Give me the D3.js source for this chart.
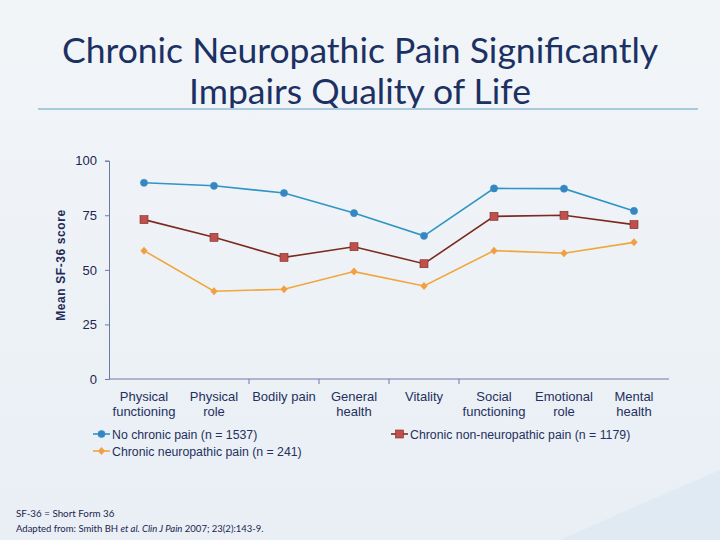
<!DOCTYPE html>
<html><head><meta charset="utf-8">
<script src="https://cdn.jsdelivr.net/npm/d3@7"></script>
<style>body{margin:0;background:#eef3f7;}svg{display:block;}</style>
</head><body>
<script>
const categories = [["Physical","functioning"],["Physical","role"],["Bodily pain"],["General","health"],["Vitality"],["Social","functioning"],["Emotional","role"],["Mental","health"]];
const noChronic = [89.9, 88.5, 85.2, 76.0, 65.6, 87.3, 87.2, 77.0];
const nonNeuro = [73.0, 64.9, 55.7, 60.6, 52.8, 74.5, 75.0, 70.7];
const neuro = [58.8, 40.2, 41.1, 49.2, 42.6, 58.8, 57.6, 62.6];
const yTicks = [0, 25, 50, 75, 100];
const seriesNames = ["No chronic pain (n = 1537)", "Chronic non-neuropathic pain (n = 1179)", "Chronic neuropathic pain (n = 241)"];

const W = 720, H = 540;
const svg = d3.select("body").append("svg").attr("width", W).attr("height", H);
const defs = svg.append("defs");
const bg = defs.append("linearGradient").attr("id","bg").attr("x1","0").attr("y1","0").attr("x2","0").attr("y2","1");
bg.append("stop").attr("offset","0").attr("stop-color","#f2f5f8");
bg.append("stop").attr("offset","1").attr("stop-color","#e9eff5");
svg.append("rect").attr("width",W).attr("height",H).attr("fill","url(#bg)");
svg.append("path").attr("d","M560,540 Q650,500 720,470 L720,540 Z").attr("fill","#dde8f1").attr("opacity",0.8);

// Title
const tstyle = t => t.attr("text-anchor","middle").attr("fill","#1c3163")
  .style("font-family","Lato, 'Open Sans', sans-serif").style("font-size","35.5px");
tstyle(svg.append("text").attr("x",360).attr("y",63)).text("Chronic Neuropathic Pain Significantly");
tstyle(svg.append("text").attr("x",360).attr("y",104)).text("Impairs Quality of Life");
svg.append("line").attr("x1",38).attr("x2",698).attr("y1",109).attr("y2",109)
  .attr("stroke","#a9c9dc").attr("stroke-width",2);

const x0 = 109, x1 = 669;
const xs = d3.scalePoint().domain(d3.range(categories.length)).range([144, 634]);
const y = d3.scaleLinear().domain([0,100]).range([379, 160.7]);
const axisColor = "#6e78a8";
const font = "'Liberation Sans', Arial, sans-serif";

// Y axis
const ya = svg.append("g").attr("transform",`translate(${x0},0)`)
  .call(d3.axisLeft(y).tickValues(yTicks).tickSize(4).tickPadding(8));
ya.select(".domain").attr("stroke",axisColor);
ya.selectAll(".tick line").attr("stroke",axisColor);
ya.selectAll(".tick text").attr("fill","#1d2550").style("font-family",font).style("font-size","13px");

// X axis line
svg.append("line").attr("x1",x0).attr("x2",x1).attr("y1",y(0)).attr("y2",y(0)).attr("stroke",axisColor);
const step = xs.step();
[1,2,3,4].forEach(i=>{
  const bx = xs(i) + step/2;
  svg.append("line").attr("x1",bx).attr("x2",bx).attr("y1",y(0)).attr("y2",y(0)+5).attr("stroke",axisColor);
});
// Category labels
categories.forEach((c,i)=>{
  const t = svg.append("text").attr("text-anchor","middle").attr("fill","#25305e")
    .style("font-family",font).style("font-size","13px");
  c.forEach((s,j)=> t.append("tspan").attr("x",xs(i)).attr("y",401+j*15).text(s));
});

// Y label
svg.append("text").attr("transform","translate(65,265) rotate(-90)").attr("text-anchor","middle")
  .attr("fill","#1d2a5a").style("font-family",font).style("font-size","12px").style("font-weight","bold")
  .style("letter-spacing","0.6px").text("Mean SF-36 score");

const series = [
  {vals:noChronic, line:"#2f95c3", fill:"#3a84c4", shape:"circle"},
  {vals:nonNeuro, line:"#7b2b1e", fill:"#c0504d", shape:"square"},
  {vals:neuro, line:"#f2a63a", fill:"#f0a042", shape:"diamond"}
];
const lineGen = d3.line().x((d,i)=>xs(i)).y(d=>y(d));
function marker(g, shape, cx, cy, fill, stroke){
  if(shape==="circle") g.append("circle").attr("cx",cx).attr("cy",cy).attr("r",3.6).attr("fill",fill).attr("stroke",stroke).attr("stroke-width",0.6);
  else if(shape==="square") g.append("rect").attr("x",cx-4).attr("y",cy-4).attr("width",8).attr("height",8).attr("fill",fill).attr("stroke",stroke).attr("stroke-width",0.6);
  else g.append("path").attr("d",`M${cx},${cy-4}L${cx+3.6},${cy}L${cx},${cy+4}L${cx-3.6},${cy}Z`).attr("fill",fill);
}
series.forEach(s=>{
  svg.append("path").datum(s.vals).attr("d",lineGen).attr("fill","none").attr("stroke",s.line).attr("stroke-width",1.6);
  const g = svg.append("g");
  s.vals.forEach((v,i)=>marker(g,s.shape,xs(i),y(v),s.fill,s.line));
});

// Legend
const legPos = [[93,434],[391,434],[93,451]];
series.forEach((s,i)=>{
  const [lx,ly] = legPos[i];
  svg.append("line").attr("x1",lx).attr("x2",lx+17).attr("y1",ly).attr("y2",ly).attr("stroke",s.line).attr("stroke-width",1.6);
  marker(svg,s.shape,lx+8.5,ly,s.fill,s.line);
  svg.append("text").attr("x",lx+19).attr("y",ly+4.5).attr("fill","#25305e")
    .style("font-family",font).style("font-size","12.3px").text(seriesNames[i]);
});

// Footnotes
const fn = "Lato, 'Open Sans', sans-serif";
svg.append("text").attr("x",16).attr("y",517).attr("fill","#1b2450").style("font-family",fn).style("font-size","9.8px").text("SF-36 = Short Form 36");
const f2 = svg.append("text").attr("x",16).attr("y",532).attr("fill","#1b2450").style("font-family",fn).style("font-size","9.5px");
f2.append("tspan").text("Adapted from: Smith BH ");
f2.append("tspan").style("font-style","italic").text("et al. Clin J Pain");
f2.append("tspan").text(" 2007; 23(2):143-9.");
</script>
</body></html>
